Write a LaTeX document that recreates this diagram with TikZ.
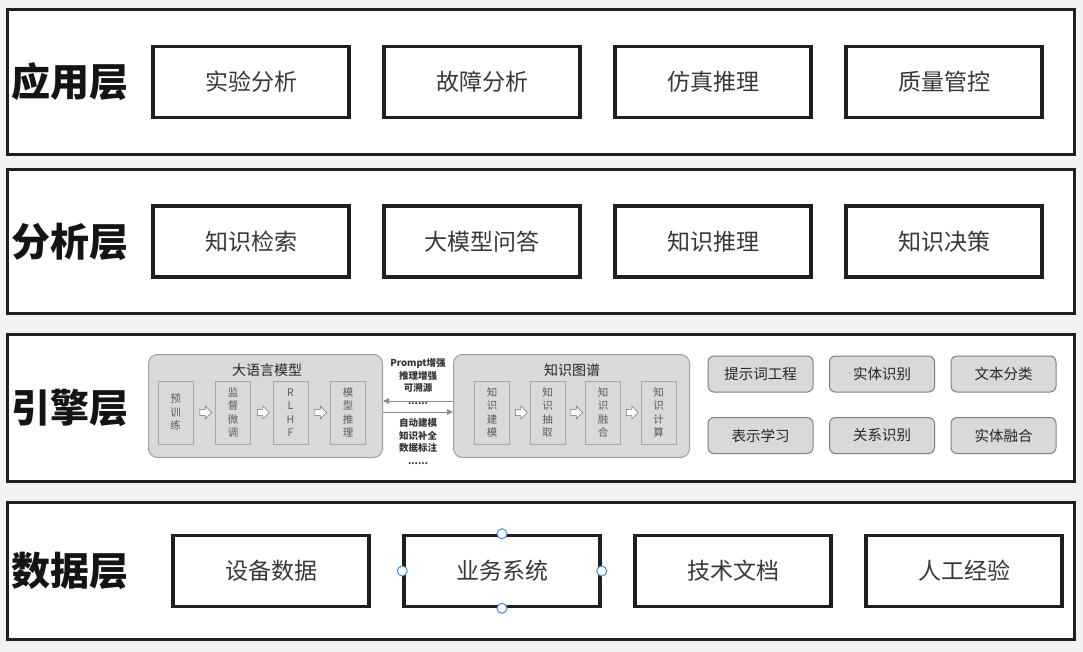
\documentclass[tikz,border=0pt]{standalone}
\usepackage{fontspec}
\setmainfont{Noto Sans CJK SC}
\usepackage{tikz}
\usetikzlibrary{positioning, shapes.arrows, arrows.meta}
\definecolor{bg}{HTML}{F2F2F4}
\definecolor{grp}{HTML}{D9D9D9}
\definecolor{handleblue}{HTML}{3C8DF5}

\begin{document}
\begin{tikzpicture}[x=1pt, y=-1pt, on grid, node distance=231pt,
   layerbox/.style={draw=black!88, line width=3pt, fill=white, minimum width=1067pt},
   layername/.style={font=\fontsize{39}{39}\selectfont\bfseries, text=black!92},
   box/.style={draw=black!88, line width=3.5pt, fill=white, minimum width=196pt,
      minimum height=71pt, font=\fontsize{23}{23}\selectfont, text=black!78},
   grpbox/.style={draw=black!38, line width=1pt, fill=grp, rounded corners=9pt, minimum height=103pt},
   grptitle/.style={font=\fontsize{14}{14}\selectfont, text=black!85},
   sub/.style={draw=black!35, line width=.8pt, fill=grp, minimum width=35pt, minimum height=63pt,
      align=center, inner sep=1pt, font=\fontsize{10.5}{13.5}\selectfont, text=black!65},
   hollow/.style={single arrow, draw=black!55, fill=white, line width=.6pt, minimum width=13pt,
      minimum height=12pt, single arrow head extend=2.5pt, inner sep=2pt},
   midtext/.style={align=center, font=\fontsize{9.5}{12.5}\selectfont\bfseries, text=black!80},
   flow/.style={draw=black!45, line width=1pt, -{Triangle[length=6pt,width=5.5pt]}},
   tool/.style={draw=black!50, line width=1pt, fill=grp, rounded corners=6pt, minimum width=105pt,
      minimum height=36pt, font=\fontsize{14.5}{14.5}\selectfont, text=black!85},
   handle/.style={circle, draw=handleblue, fill=white, line width=1pt, minimum size=10pt, inner sep=0pt}]
   % 背景
   \useasboundingbox[fill=bg] (0,0) rectangle (1083,652);

   % 四个层
   \node[layerbox, minimum height=145pt] (app) at (541,82) {};
   \node[layerbox, minimum height=144pt] (ana) at (541,241.5) {};
   \node[layerbox, minimum height=147pt] (eng) at (541,408) {};
   \node[layerbox, minimum height=137pt] (dat) at (541,571) {};

   % 层名
   \node[layername] (appn) at (70,82) {应用层};
   \node[layername] (anan) at (70,241.5) {分析层};
   \node[layername] (engn) at (70,408) {引擎层};
   \node[layername] (datn) at (70,571) {数据层};

   % 应用层
   \node[box] (a1) at (251,82) {实验分析};
   \node[box] (a2) [right=of a1] {故障分析};
   \node[box] (a3) [right=of a2] {仿真推理};
   \node[box] (a4) [right=of a3] {质量管控};

   % 分析层
   \node[box] (b1) at (251,241.5) {知识检索};
   \node[box] (b2) [right=of b1] {大模型问答};
   \node[box] (b3) [right=of b2] {知识推理};
   \node[box] (b4) [right=of b3] {知识决策};

   % 引擎层：大语言模型
   \node[grpbox, minimum width=234pt] (llm) at (265.5,406) {};
   \node[grptitle] (llmt) at (267,370) {大语言模型};
   \node[sub] (l1) at (175.5,412.5) {预\\训\\练};
   \node[sub] (l2) [right=57.5pt of l1] {监\\督\\微\\调};
   \node[sub] (l3) [right=57.5pt of l2] {R\\L\\H\\F};
   \node[sub] (l4) [right=57.5pt of l3] {模\\型\\推\\理};
   \foreach \i in {1,2,3}
      \node[hollow] (lh\i) [right=28.75pt of l\i] {};

   % 引擎层：知识图谱
   \node[grpbox, minimum width=236pt] (kg) at (571.5,406) {};
   \node[grptitle] (kgt) at (572,370) {知识图谱};
   \node[sub] (k1) at (492,412.5) {知\\识\\建\\模};
   \node[sub] (k2) [right=55.5pt of k1] {知\\识\\抽\\取};
   \node[sub] (k3) [right=55.5pt of k2] {知\\识\\融\\合};
   \node[sub] (k4) [right=55.5pt of k3] {知\\识\\计\\算};
   \foreach \i in {1,2,3}
      \node[hollow] (kh\i) [right=27.75pt of k\i] {};

   % 两者之间
   \node[midtext] (up) at (418,381.5) {Prompt增强\\推理增强\\可溯源\\......};
   \node[midtext] (dn) at (418,441.5) {自动建模\\知识补全\\数据标注\\......};
   \draw[flow] ([yshift=5pt]kg.west) -- ([yshift=5pt]llm.east);
   \draw[flow] ([yshift=-6pt]llm.east) -- ([yshift=-6pt]kg.west);

   % 引擎层：算法
   \node[tool] (t1) at (760.5,374) {提示词工程};
   \node[tool] (t2) [right=121.5pt of t1] {实体识别};
   \node[tool] (t3) [right=121.5pt of t2] {文本分类};
   \node[tool] (t4) [below=61.5pt of t1] {表示学习};
   \node[tool] (t5) [right=121.5pt of t4] {关系识别};
   \node[tool] (t6) [right=121.5pt of t5] {实体融合};

   % 数据层
   \node[box] (d1) at (271,571) {设备数据};
   \node[box] (d2) [right=of d1] {业务系统};
   \node[box] (d3) [right=of d2] {技术文档};
   \node[box] (d4) [right=of d3] {人工经验};
   \foreach \a in {north,south,east,west}
      \node[handle] (hd\a) at (d2.\a) {};
\end{tikzpicture}
\end{document}
